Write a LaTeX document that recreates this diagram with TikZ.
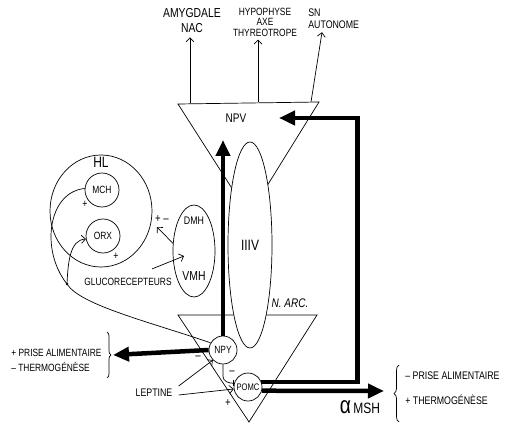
\documentclass[tikz,border=0pt]{standalone}
\usepackage{fontspec}
\setmainfont{Liberation Sans}[FakeStretch=0.8]
\usetikzlibrary{shapes, arrows, arrows.meta, calc, positioning, decorations.pathreplacing}
\tikzset{
    cell/.style={
           circle,
           draw=black,
           fill=white,
           minimum size=28pt,
           inner sep=0pt,
           font=\fontsize{10.5}{11}\selectfont,
           },
    area/.style={
           ellipse,
           draw=black,
           inner sep=0pt,
           },
    tag/.style={
           inner sep=1pt,
           font=\fontsize{11}{13}\selectfont,
           },
    fat/.style={
           line width=4.5pt,
           line join=miter,
           -{Triangle[length=16pt,width=14pt]},
           },
}

\begin{document}
\begin{tikzpicture}[x=1pt, y=-1pt, line width=0.7pt,
                    ->, >={Straight Barb[length=4pt,width=8pt]}]
 \useasboundingbox (0,0) rectangle (522,433);

 \draw[-] (178,104) -- (319,102) -- (249,215) -- cycle;
 \draw[-] (178,315) -- (317,315) -- (249,422) -- cycle;

 \node[area, fill=white,
  minimum width=44pt,
  minimum height=206pt] (V3) at (250,245)
 {%
  \fontsize{15}{16}\selectfont IIIV
 };

 \node[tag, font=\fontsize{12.5}{13}\selectfont] (NPV) at (236,118) {NPV};
 \node[tag, font=\itshape\fontsize{12.5}{13}\selectfont] (ARC) at (290,303) {N. ARC.};

 \node[tag, align=center, inner sep=4pt,
  font=\fontsize{13}{15}\selectfont] (AMYG) at (192,21)
 {%
  AMYGDALE\\NAC
 };
 \node[tag, align=center, inner sep=3pt,
  font=\fontsize{10.5}{10.5}\selectfont] (HYPO) at (265,22)
 {%
  HYPOPHYSE\\AXE\\THYREOTROPE
 };
 \node[tag, align=left, anchor=west, inner sep=3pt,
  font=\fontsize{11}{12}\selectfont] (SN) at (305,19)
 {%
  SN\\AUTONOME
 };

 \coordinate (OUT_AMYG) at (190,103);
 \coordinate (OUT_HYPO) at (258,102);
 \coordinate (OUT_SN) at (311,102);

 \path (OUT_AMYG) edge (OUT_AMYG |- AMYG.south);
 \path (OUT_HYPO) edge (OUT_HYPO |- HYPO.south);
 \path (OUT_SN) edge ($(SN.south west)+(17,0)$);

 \node[area,
  minimum width=102pt,
  minimum height=112pt] (HL) at (101,211) {};
 \node[tag, below=1pt of HL.north,
  font=\fontsize{15}{16}\selectfont] (HL_NAME) {HL};
 \node[cell, minimum size=34pt] (MCH) at (102,190) {MCH};
 \node[cell, minimum size=34pt] (ORX) at (103,236) {ORX};
 \node[tag] (PLUS_MCH) at (85,204) {+};
 \node[tag] (PLUS_ORX) at (116,256) {+};

 \node[area,
  minimum width=42pt,
  minimum height=92pt] (HYP) at (194,251) {};
 \node[tag, below=11pt of HYP.north] (DMH) {DMH};
 \node[tag, above=16pt of HYP.south,
  font=\fontsize{13}{14}\selectfont] (VMH) {VMH};
 \node[tag, font=\fontsize{12}{13}\selectfont] (SIGN_DMH) at (162,219) {+ –};
 \coordinate (DMH_TIP) at (157,227);
 \path (HYP.160) edge (DMH_TIP);

 \node[tag, font=\fontsize{10.5}{12}\selectfont] (GLUC) at (128,282)
 {%
  GLUCORECEPTEURS
 };
 \coordinate (GLUC_TIP) at (184,256);
 \path ($(GLUC.north)+(24,-8)$) edge (GLUC_TIP);

 \node[cell] (NPY) at (223,350) {NPY};
 \node[cell, font=\fontsize{9.5}{10}\selectfont] (POMC) at (248,387) {POMC};

 \coordinate (FORK) at (67,284);
 \draw[-] (NPY.150) .. controls (150,322) and (80,305) .. (FORK);
 \draw[-] (FORK) .. controls (40,250) and (48,192) .. (MCH.175);
 \draw (FORK) .. controls (68,262) and (70,240) .. (ORX.190);
 \fill (FORK) circle (1.3pt);

 \coordinate (NPY_UP) at (223,140);
 \coordinate (NPV_IN) at (279,118);
 \coordinate (LEFT_TIP) at (113,355);
 \coordinate (MSH_TIP) at (384,391);

 \draw[fat] (NPY.north) -- (NPY_UP);
 \draw[fat] (POMC.20) -- ++(96,0) |- (NPV_IN);
 \draw[fat] (POMC.-15) -- (MSH_TIP);
 \draw[fat] (NPY.west) -- (LEFT_TIP);

 \draw[-{Bar[width=6pt]}] (NPY.south) -- ++(0,12)
   to[out=-90, in=180] (POMC.165);

 \node[tag] (LEPT) at (154,393) {LEPTINE};
 \path ($(LEPT.east)+(5,-7)$) edge (NPY.225);
 \path ($(LEPT.east)+(5,2)$) edge (POMC.188);

 \node[tag, font=\fontsize{12}{13}\selectfont] (MINUS_NPY) at (198,358) {–};
 \node[tag, font=\fontsize{12}{13}\selectfont] (MINUS_POMC) at (232,373) {–};
 \node[tag, font=\fontsize{12}{13}\selectfont] (PLUS_POMC) at (228,403) {+};

 \node[tag, align=left, anchor=west,
  font=\fontsize{10.5}{15}\selectfont] (LEFT_OUT) at (10,360)
 {%
  + PRISE ALIMENTAIRE\\– THERMOGÉNÈSE
 };
 \draw[-, decorate, decoration={brace, amplitude=4pt}]
   (107,332) -- (107,378);

 \node[tag, font=\fontsize{15}{16}\selectfont] (MSH) at (360,407)
 {%
  {\fontsize{24}{24}\selectfont α}\,MSH
 };

 \node[tag, align=left, anchor=west,
  font=\fontsize{11}{25}\selectfont] (RIGHT_OUT) at (404,388)
 {%
  – PRISE ALIMENTAIRE\\+ THERMOGÉNÈSE
 };
 \draw[-, decorate, decoration={brace, amplitude=5pt}]
   (399,422) -- (399,365);

\end{tikzpicture}
\end{document}
